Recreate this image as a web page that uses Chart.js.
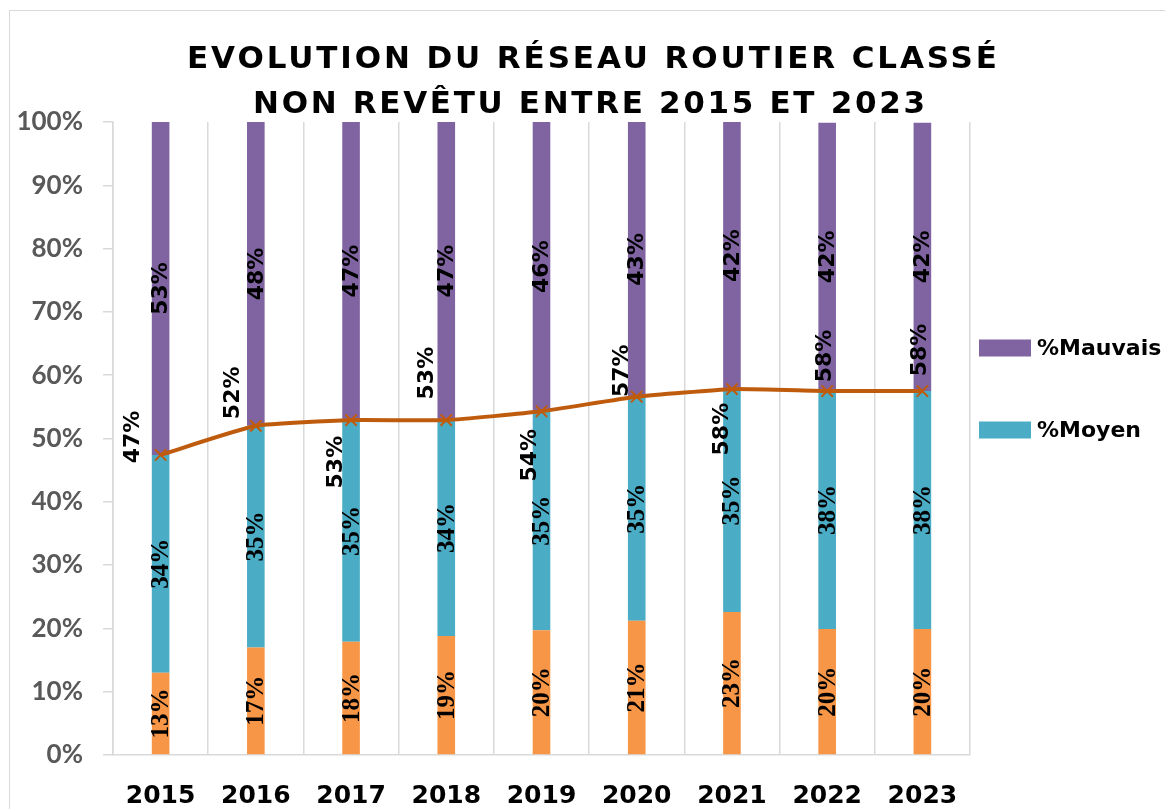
<!DOCTYPE html>
<html>
<head>
<meta charset="utf-8">
<script src="https://cdn.jsdelivr.net/npm/chart.js@4.4.1/dist/chart.umd.min.js"></script>
<style>
  html, body { margin: 0; padding: 0; background: #ffffff; }
  #wrap { position: relative; width: 1165px; height: 809px; overflow: hidden; }
  #frame { position: absolute; left: 9px; top: 10px; width: 1300px; height: 900px;
           border-left: 1.5px solid #d9d9d9; border-top: 1.5px solid #d9d9d9; }
  canvas { position: absolute; left: 0; top: 0; }
</style>
</head>
<body>
<div id="wrap">
  <div id="frame"></div>
  <canvas id="c" width="1165" height="809"></canvas>
</div>
<script>
// ---------- data ----------
const categories = ['2015', '2016', '2017', '2018', '2019', '2020', '2021', '2022', '2023'];
const bonValues = [13.0, 17.0, 17.9, 18.8, 19.7, 21.2, 22.6, 19.9, 19.9];
const moyenValues = [34.4, 35.0, 35.0, 34.1, 34.6, 35.4, 35.2, 37.6, 37.6];
const mauvaisValues = [52.6, 48.0, 47.1, 47.1, 45.7, 43.4, 42.2, 42.4, 42.4];
const totalValues = [47.4, 52.0, 52.9, 52.9, 54.3, 56.6, 57.8, 57.5, 57.5];
const yTickValues = [0, 10, 20, 30, 40, 50, 60, 70, 80, 90, 100];
const titleLines = ['EVOLUTION DU RÉSEAU ROUTIER CLASSÉ', 'NON REVÊTU ENTRE 2015 ET 2023'];

// ---------- styles / layout ----------
const C_BON = '#F79646', C_MOY = '#4BACC6', C_MAU = '#8064A2', C_LINE = '#BF5B0C';
const GRID = '#d9d9d9';
// label centre offsets relative to the line point (manual label placement)
const lineLabelOffsets = [[-28,-18],[-24,-33],[-16,42],[-20,-47],[-12,44],[-15,-26],[-11,40],[-3,-35],[-3,-41]];

const pct = v => Math.round(v) + '%';

const labelPlugin = {
  id: 'labels',
  afterDatasetsDraw(chart) {
    const ctx = chart.ctx;
    ctx.save();
    ctx.fillStyle = '#000';
    ctx.textAlign = 'center';
    ctx.textBaseline = 'middle';
    chart.data.datasets.forEach((ds, di) => {
      const meta = chart.getDatasetMeta(di);
      meta.data.forEach((el, i) => {
        let x, y;
        if (ds.type === 'line') {
          x = el.x + lineLabelOffsets[i][0];
          y = el.y + lineLabelOffsets[i][1];
          ctx.font = 'bold 22px "DejaVu Sans"';
        } else {
          x = el.x;
          y = (el.y + el.base) / 2;
          ctx.font = ds.labelSerif ? 'bold 25px "Liberation Serif"' : 'bold 22px "DejaVu Sans"';
        }
        ctx.save();
        ctx.translate(x, y);
        ctx.rotate(-Math.PI / 2);
        ctx.fillText(pct(ds.data[i]), 0, 1);
        ctx.restore();
      });
    });
    ctx.restore();
  }
};

const titlePlugin = {
  id: 'customTitle',
  afterDraw(chart) {
    const ctx = chart.ctx;
    ctx.save();
    ctx.fillStyle = '#000';
    ctx.font = 'bold 31px "DejaVu Sans"';
    ctx.textAlign = 'center';
    ctx.textBaseline = 'alphabetic';
    const targets = [[592, 68, 810], [589, 113, 672]];
    titleLines.forEach((t, k) => {
      ctx.letterSpacing = '0px';
      const w = ctx.measureText(t).width;
      const sp = (targets[k][2] - w) / (t.length - 1);
      ctx.letterSpacing = sp.toFixed(2) + 'px';
      ctx.fillText(t, targets[k][0] + sp / 2, targets[k][1]);
    });
    ctx.letterSpacing = '0px';
    ctx.restore();
  }
};

const legendPlugin = {
  id: 'customLegend',
  afterDraw(chart) {
    const ctx = chart.ctx;
    ctx.save();
    const items = [2, 1];
    const ys = [348, 430];
    ctx.font = 'bold 22px "DejaVu Sans"';
    ctx.textBaseline = 'middle';
    ctx.textAlign = 'left';
    items.forEach((di, k) => {
      const ds = chart.data.datasets[di];
      ctx.fillStyle = ds.backgroundColor;
      ctx.fillRect(979, ys[k] - 8.5, 52, 17);
      ctx.fillStyle = '#000';
      ctx.fillText(ds.label, 1037, ys[k] + 1);
    });
    ctx.restore();
  }
};

new Chart(document.getElementById('c'), {
  data: {
    labels: categories,
    datasets: [
      { type: 'bar', label: '%Bon', data: bonValues, backgroundColor: C_BON, order: 1, stack: 'bars', labelSerif: true },
      { type: 'bar', label: '%Moyen', data: moyenValues, backgroundColor: C_MOY, order: 1, stack: 'bars', labelSerif: true },
      { type: 'bar', label: '%Mauvais', data: mauvaisValues, backgroundColor: C_MAU, order: 1, stack: 'bars' },
      { type: 'line', label: 'Total', data: totalValues, borderColor: C_LINE, borderWidth: 4, tension: 0.15,
        pointStyle: 'crossRot', pointRadius: 8, pointBorderWidth: 2, pointBorderColor: C_LINE,
        pointBackgroundColor: C_LINE, order: 0, stack: 'line', fill: false }
    ]
  },
  options: {
    responsive: false,
    maintainAspectRatio: false,
    animation: false,
    devicePixelRatio: 1,
    layout: { padding: { top: 122, right: 195, left: 0, bottom: 0 } },
    datasets: { bar: { categoryPercentage: 1, barPercentage: 0.185 } },
    plugins: { legend: { display: false }, title: { display: false }, tooltip: { enabled: false } },
    scales: {
      x: {
        stacked: true,
        offset: true,
        grid: { display: true, offset: true, color: GRID, lineWidth: 1.5, drawTicks: false },
        border: { display: true, color: GRID, width: 1.5 },
        ticks: { color: '#000', font: { family: 'DejaVu Sans', weight: 'bold', size: 25 }, padding: 26, maxRotation: 0 },
        afterFit(s) { s.height = 54; }
      },
      y: {
        stacked: true,
        min: 0, max: 100,
        afterBuildTicks(s) { s.ticks = yTickValues.map(v => ({ value: v })); },
        grid: { drawOnChartArea: false, drawTicks: true, tickLength: 10, color: GRID, lineWidth: 1.5 },
        border: { display: true, color: GRID, width: 1.5 },
        ticks: { color: '#595959', font: { family: 'Lato', weight: 'bold', size: 26 }, padding: 20,
                 callback: v => v + '%' },
        afterFit(s) { s.width = 113; }
      }
    }
  },
  plugins: [labelPlugin, titlePlugin, legendPlugin]
});
</script>
</body>
</html>
